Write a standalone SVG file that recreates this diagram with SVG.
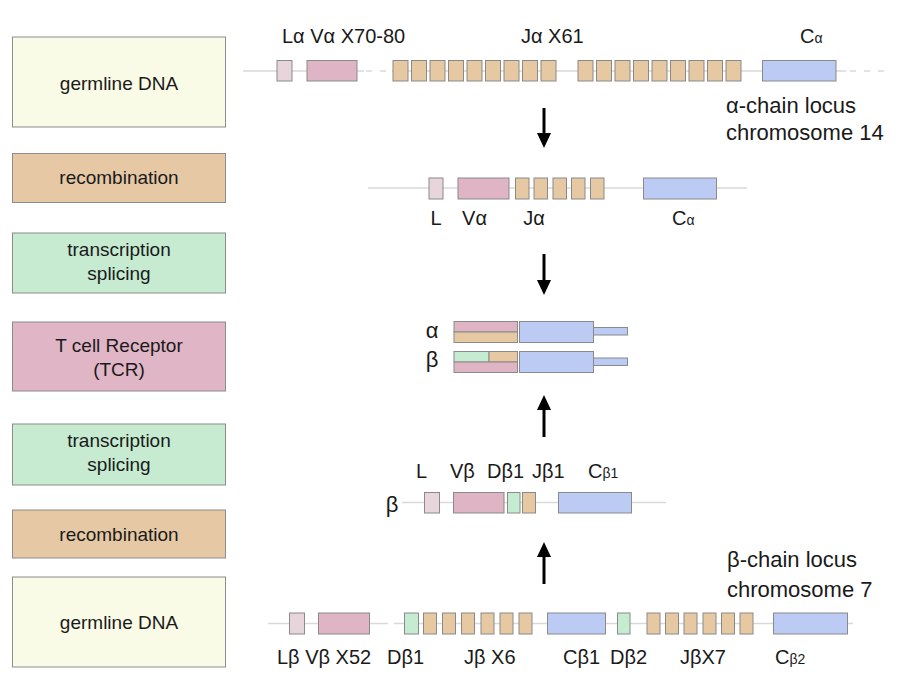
<svg xmlns="http://www.w3.org/2000/svg" width="902" height="691" viewBox="0 0 902 691">
<defs>
<style>
text{font-family:"Liberation Sans",Arial,sans-serif;fill:#1a1a1a}
.step{stroke:#8c8c8c;stroke-width:1}
.st{font-size:19px;text-anchor:middle}
.gl{font-size:20px}
.loc{font-size:22px}
.sm{font-size:14px}
.g{stroke:#8a8a8a;stroke-width:1}
.L{fill:#e8d5dc}
.V{fill:#dfb4c4}
.J{fill:#e6c8a3}
.C{fill:#bccbf4}
.D{fill:#c5ebd0}
.ln{stroke:#d9d9d9;stroke-width:1.5;fill:none}
.dash{stroke:#d9d9d9;stroke-width:1.5;fill:none;stroke-dasharray:6 8}
.arr{stroke:#000;stroke-width:3;fill:none}
</style>
</defs>
<rect width="902" height="691" fill="#ffffff"/>

<!-- left step boxes -->
<g id="step-germline-alpha"><rect class="step" x="12.5" y="37" width="213" height="90" fill="#fafbe6"/><text class="st" x="119" y="90">germline DNA</text></g>
<g id="step-recomb-alpha"><rect class="step" x="12.5" y="153.5" width="213" height="49" fill="#e6c8a5"/><text class="st" x="119" y="184">recombination</text></g>
<g id="step-transcr-alpha"><rect class="step" x="12.5" y="233" width="213" height="60" fill="#c6ebd1"/><text class="st" x="119" y="256">transcription</text><text class="st" x="119" y="280">splicing</text></g>
<g id="step-tcr"><rect class="step" x="12.5" y="322" width="213" height="69" fill="#e0b5c5"/><text class="st" x="119" y="352">T cell Receptor</text><text class="st" x="119" y="376">(TCR)</text></g>
<g id="step-transcr-beta"><rect class="step" x="12.5" y="424" width="213" height="61" fill="#c6ebd1"/><text class="st" x="119" y="447">transcription</text><text class="st" x="119" y="471">splicing</text></g>
<g id="step-recomb-beta"><rect class="step" x="12.5" y="510" width="213" height="48" fill="#e6c8a5"/><text class="st" x="119" y="541">recombination</text></g>
<g id="step-germline-beta"><rect class="step" x="12.5" y="577" width="213" height="90" fill="#fafbe6"/><text class="st" x="119" y="629">germline DNA</text></g>

<!-- alpha germline locus -->
<g id="alpha-germline">
<line class="ln" x1="243" y1="71" x2="364" y2="71"/>
<line class="dash" x1="366" y1="71" x2="392" y2="71"/>
<line class="ln" x1="392" y1="71" x2="846" y2="71"/>
<line class="dash" x1="850" y1="71" x2="884" y2="71"/>
<rect class="g L" x="277" y="60.5" width="15" height="20.5"/>
<rect class="g V" x="307" y="60.5" width="50" height="20.5"/>
<g class="g J">
<rect x="393" y="60.5" width="15" height="20.5"/><rect x="411.5" y="60.5" width="15" height="20.5"/><rect x="430" y="60.5" width="15" height="20.5"/><rect x="448.5" y="60.5" width="15" height="20.5"/><rect x="467" y="60.5" width="15" height="20.5"/><rect x="485.5" y="60.5" width="15" height="20.5"/><rect x="504" y="60.5" width="15" height="20.5"/><rect x="522.5" y="60.5" width="15" height="20.5"/><rect x="541" y="60.5" width="15" height="20.5"/>
<rect x="578" y="60.5" width="15" height="20.5"/><rect x="596.5" y="60.5" width="15" height="20.5"/><rect x="615" y="60.5" width="15" height="20.5"/><rect x="633.5" y="60.5" width="15" height="20.5"/><rect x="652" y="60.5" width="15" height="20.5"/><rect x="670.5" y="60.5" width="15" height="20.5"/><rect x="689" y="60.5" width="15" height="20.5"/><rect x="707.5" y="60.5" width="15" height="20.5"/><rect x="726" y="60.5" width="15" height="20.5"/>
</g>
<rect class="g C" x="762.5" y="60.5" width="73.5" height="20.5"/>
<text class="gl" x="282" y="43">Lα Vα X70-80</text>
<text class="gl" x="521" y="43">Jα X61</text>
<text class="gl" x="800" y="43">C<tspan class="sm">α</tspan></text>
<text class="loc" x="726" y="113">α-chain locus</text>
<text class="loc" x="726" y="140">chromosome 14</text>
</g>

<!-- alpha recombined -->
<g id="alpha-recombined">
<line class="ln" x1="368" y1="188" x2="747" y2="188"/>
<rect class="g L" x="429" y="178" width="14" height="21"/>
<rect class="g V" x="458" y="178" width="51" height="21"/>
<g class="g J">
<rect x="515.5" y="178" width="13.5" height="21"/><rect x="534" y="178" width="13.5" height="21"/><rect x="553" y="178" width="13.5" height="21"/><rect x="571.5" y="178" width="13.5" height="21"/><rect x="590.5" y="178" width="13.5" height="21"/>
</g>
<rect class="g C" x="643.5" y="178" width="73" height="21"/>
<text class="gl" x="436" y="225" text-anchor="middle">L</text>
<text class="gl" x="474.5" y="225" text-anchor="middle">Vα</text>
<text class="gl" x="534" y="225" text-anchor="middle">Jα</text>
<text class="gl" x="672" y="225">C<tspan class="sm">α</tspan></text>
</g>

<!-- TCR chains -->
<g id="tcr-alpha">
<rect class="g V" x="454" y="321.5" width="63.5" height="10.5"/>
<rect class="g J" x="454" y="332" width="63.5" height="10.5"/>
<rect class="g C" x="519.5" y="321.5" width="74" height="21"/>
<rect class="g C" x="593.5" y="327.5" width="34" height="7.5"/>
<text class="loc" x="432" y="338" text-anchor="middle">α</text>
</g>
<g id="tcr-beta">
<rect class="g D" x="454" y="351.5" width="35" height="10.5"/>
<rect class="g J" x="489" y="351.5" width="28.5" height="10.5"/>
<rect class="g V" x="454" y="362" width="63.5" height="10.5"/>
<rect class="g C" x="519.5" y="351.5" width="74" height="21"/>
<rect class="g C" x="593.5" y="358" width="34" height="7.5"/>
<text class="loc" x="432" y="367" text-anchor="middle">β</text>
</g>

<!-- beta recombined -->
<g id="beta-recombined">
<line class="ln" x1="402" y1="502.5" x2="666" y2="502.5"/>
<rect class="g L" x="424.5" y="492.5" width="15" height="20.5"/>
<rect class="g V" x="453.5" y="492.5" width="50.5" height="20.5"/>
<rect class="g D" x="507.5" y="492.5" width="12.5" height="20.5"/>
<rect class="g J" x="522.5" y="492.5" width="13" height="20.5"/>
<rect class="g C" x="558.5" y="492.5" width="73" height="20.5"/>
<text class="loc" x="392" y="512" text-anchor="middle">β</text>
<text class="gl" x="421.5" y="478" text-anchor="middle">L</text>
<text class="gl" x="450" y="478">Vβ</text>
<text class="gl" x="487" y="478">Dβ1</text>
<text class="gl" x="532" y="478">Jβ1</text>
<text class="gl" x="588" y="478">C<tspan class="sm">β1</tspan></text>
</g>

<!-- beta germline locus -->
<g id="beta-germline">
<line class="ln" x1="268" y1="623.5" x2="388" y2="623.5"/>
<line class="ln" x1="394" y1="623.5" x2="398" y2="623.5"/>
<line class="ln" x1="398" y1="623.5" x2="853" y2="623.5"/>
<rect class="g L" x="289.5" y="613" width="15" height="21"/>
<rect class="g V" x="318.5" y="613" width="51" height="21"/>
<rect class="g D" x="404.5" y="613" width="14" height="21"/>
<g class="g J">
<rect x="423.5" y="613" width="13" height="21"/><rect x="442.5" y="613" width="13" height="21"/><rect x="461.5" y="613" width="13" height="21"/><rect x="481" y="613" width="13" height="21"/><rect x="500" y="613" width="13" height="21"/><rect x="519" y="613" width="13" height="21"/>
</g>
<rect class="g C" x="547.5" y="613" width="58" height="21"/>
<rect class="g D" x="617.5" y="613" width="12.5" height="21"/>
<g class="g J">
<rect x="647" y="613" width="13" height="21"/><rect x="665.5" y="613" width="13" height="21"/><rect x="684" y="613" width="13" height="21"/><rect x="703" y="613" width="13" height="21"/><rect x="721.5" y="613" width="13" height="21"/><rect x="740" y="613" width="13" height="21"/>
</g>
<rect class="g C" x="773.5" y="613" width="74" height="21"/>
<text class="gl" x="277" y="664">Lβ Vβ X52</text>
<text class="gl" x="387" y="664">Dβ1</text>
<text class="gl" x="464" y="664">Jβ X6</text>
<text class="gl" x="563" y="664">Cβ1</text>
<text class="gl" x="610" y="664">Dβ2</text>
<text class="gl" x="680" y="664">JβX7</text>
<text class="gl" x="775" y="664">C<tspan class="sm">β2</tspan></text>
<text class="loc" x="727" y="567">β-chain locus</text>
<text class="loc" x="727" y="597">chromosome 7</text>
</g>

<!-- connectors -->
<g id="connectors">
<line class="arr" x1="544" y1="108" x2="544" y2="135"/>
<polygon points="537,133 551,133 544,148"/>
<line class="arr" x1="544" y1="254" x2="544" y2="282"/>
<polygon points="537,280 551,280 544,295"/>
<line class="arr" x1="544" y1="437" x2="544" y2="408"/>
<polygon points="537,410 551,410 544,395"/>
<line class="arr" x1="544" y1="584" x2="544" y2="555"/>
<polygon points="537,557 551,557 544,542"/>
</g>
</svg>
